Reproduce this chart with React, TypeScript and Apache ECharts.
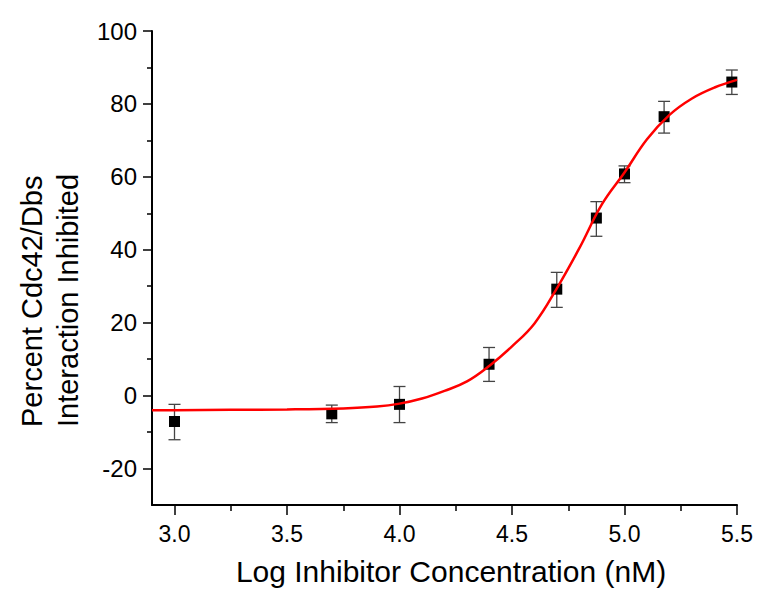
import React, { useEffect, useRef } from "react";
import * as echarts from "echarts";

// Measured data points (log concentration, mean % inhibited, error bar low/high)
const logConc = [3.0, 3.699, 4.0, 4.398, 4.699, 4.875, 5.0, 5.176, 5.477];
const meanInhibited = [-7.1, -5.0, -2.4, 8.6, 29.2, 48.7, 60.8, 76.5, 86.0];
const errLow = [-12.1, -7.4, -7.4, 3.9, 24.2, 43.7, 58.4, 72.0, 82.6];
const errHigh = [-2.4, -2.6, 2.5, 13.2, 33.8, 53.2, 63.0, 80.7, 89.3];

// Fitted curve
const curveX = [2.9, 3.0, 3.25, 3.5, 3.75, 3.9, 4.0, 4.1, 4.2, 4.3, 4.4, 4.5, 4.6, 4.7, 4.8, 4.9, 5.0, 5.1, 5.2, 5.3, 5.4, 5.5];
const curveY = [-4.0, -4.0, -3.9, -3.8, -3.5, -3.0, -2.2, -0.8, 1.3, 3.9, 8.2, 13.5, 19.8, 29.5, 40.5, 52.5, 61.2, 70.3, 77.0, 81.5, 84.5, 86.6];

// Axis ticks
const xMajorTicks = [3.0, 3.5, 4.0, 4.5, 5.0, 5.5];
const xMinorTicks = [3.25, 3.75, 4.25, 4.75, 5.25];
const yMajorTicks = [-20, 0, 20, 40, 60, 80, 100];
const yMinorTicks = [-10, 10, 30, 50, 70, 90];

const FONT = "'Liberation Sans', Arial, sans-serif";

export default function App() {
  const ref = useRef<HTMLDivElement>(null);

  useEffect(() => {
    if (!ref.current) return;
    const chart = echarts.init(ref.current, null, { renderer: "svg" });

    const points = logConc.map((x, i) => [x, meanInhibited[i]]);
    const bars = logConc.map((x, i) => [x, errLow[i], errHigh[i]]);
    const curve = curveX.map((x, i) => [x, curveY[i]]);

    const axisLineStyle = { color: "#000", width: 2 };

    chart.setOption({
      animation: false,
      backgroundColor: "#fff",
      grid: { left: 152, right: 29, top: 31, bottom: 95, containLabel: false },
      xAxis: [
        {
          type: "value",
          min: 2.9,
          max: 5.5,
          splitLine: { show: false },
          axisLine: { show: true, onZero: false, lineStyle: axisLineStyle },
          axisTick: { show: true, customValues: xMajorTicks, length: 10, lineStyle: { color: "#000", width: 1.5 } },
          axisLabel: {
            customValues: xMajorTicks,
            formatter: (v: number) => v.toFixed(1),
            fontFamily: FONT,
            fontSize: 23,
            color: "#000",
            margin: 17,
          },
        },
        {
          type: "value",
          min: 2.9,
          max: 5.5,
          position: "bottom",
          offset: 0,
          splitLine: { show: false },
          axisLine: { show: false, onZero: false },
          axisTick: { show: true, customValues: xMinorTicks, length: 6, lineStyle: { color: "#000", width: 1.5 } },
          axisLabel: { show: false },
        },
      ],
      yAxis: [
        {
          type: "value",
          min: -30,
          max: 100,
          splitLine: { show: false },
          axisLine: { show: true, onZero: false, lineStyle: axisLineStyle },
          axisTick: { show: true, customValues: yMajorTicks, length: 9, lineStyle: { color: "#000", width: 1.5 } },
          axisLabel: {
            customValues: yMajorTicks,
            fontFamily: FONT,
            fontSize: 24,
            color: "#000",
            margin: 15,
          },
        },
        {
          type: "value",
          min: -30,
          max: 100,
          position: "left",
          offset: 0,
          splitLine: { show: false },
          axisLine: { show: false, onZero: false },
          axisTick: { show: true, customValues: yMinorTicks, length: 5, lineStyle: { color: "#000", width: 1.5 } },
          axisLabel: { show: false },
        },
      ],
      graphic: [
        {
          type: "text",
          x: 451,
          y: 571,
          style: {
            text: "Log Inhibitor Concentration (nM)",
            fontFamily: FONT,
            fontSize: 30,
            fill: "#000",
            align: "center",
            verticalAlign: "middle",
          },
        },
        {
          type: "text",
          x: 32,
          y: 427,
          rotation: Math.PI / 2,
          style: {
            text: "Percent Cdc42/Dbs",
            fontFamily: FONT,
            fontSize: 29,
            fill: "#000",
            align: "left",
            verticalAlign: "middle",
          },
        },
        {
          type: "text",
          x: 68,
          y: 427,
          rotation: Math.PI / 2,
          style: {
            text: "Interaction Inhibited",
            fontFamily: FONT,
            fontSize: 29,
            fill: "#000",
            align: "left",
            verticalAlign: "middle",
          },
        },
      ],
      series: [
        {
          type: "custom",
          xAxisIndex: 0,
          yAxisIndex: 0,
          data: bars,
          z: 2,
          renderItem: (_params: any, api: any) => {
            const x = api.value(0);
            const lo = api.coord([x, api.value(1)]);
            const hi = api.coord([x, api.value(2)]);
            const cap = 6;
            const style = { stroke: "#444", lineWidth: 1.3 };
            return {
              type: "group",
              children: [
                { type: "line", shape: { x1: lo[0], y1: lo[1], x2: hi[0], y2: hi[1] }, style },
                { type: "line", shape: { x1: lo[0] - cap, y1: lo[1], x2: lo[0] + cap, y2: lo[1] }, style },
                { type: "line", shape: { x1: hi[0] - cap, y1: hi[1], x2: hi[0] + cap, y2: hi[1] }, style },
              ],
            };
          },
        },
        {
          type: "scatter",
          xAxisIndex: 0,
          yAxisIndex: 0,
          data: points,
          symbol: "rect",
          symbolSize: 11,
          itemStyle: { color: "#000", opacity: 1 },
          z: 3,
        },
        {
          type: "line",
          xAxisIndex: 0,
          yAxisIndex: 0,
          data: curve,
          smooth: 0.4,
          showSymbol: false,
          symbol: "none",
          lineStyle: { color: "#ff0000", width: 2.5 },
          z: 4,
        },
      ],
    });

    return () => chart.dispose();
  }, []);

  return <div ref={ref} style={{ width: 766, height: 600, margin: -8 }} />;
}
